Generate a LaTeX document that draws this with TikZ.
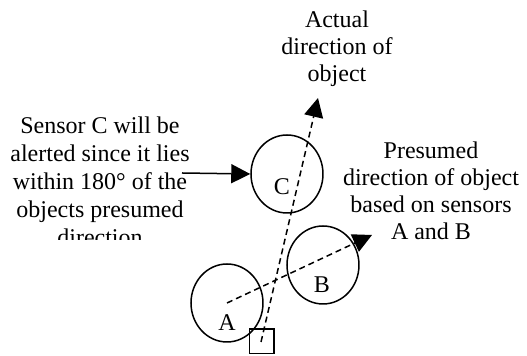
\documentclass[tikz,border=0pt]{standalone}
\usepackage{fontspec}
\setmainfont{Liberation Serif}
\usetikzlibrary{arrows.meta,shapes.geometric}

\begin{document}
\begin{tikzpicture}[x=0.5pt,y=-0.5pt,
    sensor/.style={draw, line width=0.75pt, ellipse, minimum width=36pt, minimum height=39pt, inner sep=0pt},
    caption/.style={align=center, inner sep=0pt, anchor=north, font=\fontsize{12}{13.6}\selectfont},
    letter/.style={inner sep=0pt, font=\fontsize{12}{13.6}\selectfont},
    pointer/.style={line width=0.75pt, -{Triangle[length=9.5pt,width=9.5pt]}},
    track/.style={pointer, dash pattern=on 3pt off 2pt}]
    \useasboundingbox (0,0) rectangle (527,356);
    \node[sensor] (C) at (287,174) {};
    \node[sensor] (B) at (323,265) {};
    \node[sensor] (A) at (227,303) {};
    \node[letter] (labC) at (282,187) {C};
    \node[letter] (labB) at (322,285) {B};
    \node[letter] (labA) at (227,323) {A};
    \node[draw, line width=0.75pt, minimum size=12.25pt, inner sep=0pt] (obj) at (262,341.5) {};
    \coordinate (objpos) at (261,342);
    \coordinate (acttip) at (318,98);
    \coordinate (prestip) at (372,235);
    \coordinate (alertstart) at (182,173);
    \draw[track] (objpos) -- (acttip);
    \draw[track] (A.center) -- (prestip);
    \draw[pointer] (alertstart) -- (C.west);
    \node[caption] (actual) at (337,10) {Actual\\direction of\\object};
    \node[caption] (presumed) at (431,141) {Presumed\\direction of object\\based on sensors\\A and B};
    \begin{scope}
      \clip (0,0) rectangle (250,240);
      \node[caption, font=\fontsize{12}{14}\selectfont] (alert) at (100,116) {Sensor C will be\\alerted since it lies\\within 180° of the\\objects presumed\\direction};
    \end{scope}
  \end{tikzpicture}
\end{document}
